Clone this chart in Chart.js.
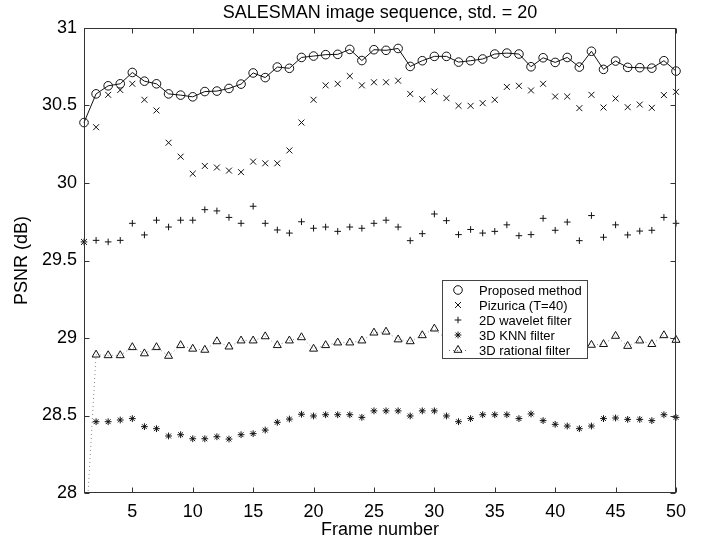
<!DOCTYPE html>
<html>
<head>
<meta charset="utf-8">
<script src="https://cdn.jsdelivr.net/npm/chart.js@4/dist/chart.umd.min.js"></script>
<style>
  html, body { margin: 0; padding: 0; background: #fff; }
  #wrap { width: 716px; height: 539px; }
</style>
</head>
<body>
<div id="wrap"><canvas id="psnr-chart" width="716" height="539"></canvas></div>
<script>
// Frame numbers (x axis)
const frames = [1, 2, 3, 4, 5, 6, 7, 8, 9, 10, 11, 12, 13, 14, 15, 16, 17, 18, 19, 20,
    21, 22, 23, 24, 25, 26, 27, 28, 29, 30, 31, 32, 33, 34, 35, 36, 37, 38, 39, 40,
    41, 42, 43, 44, 45, 46, 47, 48, 49, 50];

// PSNR values
const proposed = [30.39, 30.575, 30.627, 30.64, 30.713, 30.657, 30.64, 30.575, 30.567, 30.556,
    30.59, 30.593, 30.61, 30.638, 30.71, 30.68, 30.748, 30.74, 30.81, 30.819,
    30.828, 30.83, 30.862, 30.79, 30.86, 30.856, 30.868, 30.752, 30.789, 30.817,
    30.817, 30.78, 30.789, 30.80, 30.832, 30.838, 30.832, 30.75, 30.808, 30.778,
    30.81, 30.748, 30.85, 30.733, 30.787, 30.746, 30.744, 30.741, 30.789, 30.722];
const pizurica = [29.62, 30.36, 30.569, 30.60, 30.64, 30.537, 30.468, 30.26, 30.17, 30.06,
    30.11, 30.10, 30.08, 30.07, 30.138, 30.127, 30.127, 30.21, 30.39, 30.537,
    30.63, 30.64, 30.69, 30.63, 30.65, 30.65, 30.66, 30.575, 30.54, 30.59,
    30.547, 30.498, 30.498, 30.515, 30.537, 30.62, 30.627, 30.597, 30.64, 30.558,
    30.558, 30.483, 30.569, 30.487, 30.545, 30.489, 30.506, 30.485, 30.567, 30.588];
const wavelet2d = [29.62, 29.63, 29.62, 29.63, 29.74, 29.665, 29.76, 29.716, 29.76, 29.76,
    29.828, 29.82, 29.778, 29.74, 29.85, 29.74, 29.697, 29.677, 29.75, 29.708,
    29.716, 29.688, 29.716, 29.708, 29.74, 29.76, 29.716, 29.628, 29.673, 29.80,
    29.757, 29.667, 29.70, 29.677, 29.688, 29.73, 29.66, 29.667, 29.772, 29.695,
    29.748, 29.628, 29.79, 29.65, 29.73, 29.665, 29.69, 29.695, 29.778, 29.74];
const knn3d = [null, 28.46, 28.46, 28.471, 28.48, 28.428, 28.415, 28.368, 28.376, 28.35,
    28.35, 28.363, 28.348, 28.376, 28.383, 28.406, 28.456, 28.477, 28.508, 28.497,
    28.505, 28.505, 28.505, 28.488, 28.53, 28.53, 28.53, 28.497, 28.53, 28.53,
    28.497, 28.46, 28.48, 28.505, 28.505, 28.505, 28.48, 28.51, 28.467, 28.443,
    28.432, 28.415, 28.432, 28.48, 28.484, 28.475, 28.475, 28.467, 28.505, 28.488];
const rational3d = [27.55, 28.892, 28.888, 28.888, 28.94, 28.90, 28.94, 28.884, 28.953, 28.93,
    28.923, 28.978, 28.944, 28.983, 28.983, 29.01, 28.953, 28.983, 29.004, 28.93,
    28.953, 28.97, 28.97, 28.983, 29.034, 29.04, 28.99, 28.978, 29.017, 29.06,
    28.99, 28.97, 28.98, 29.0, 28.97, 28.99, 29.01, 28.97, 28.98, 28.96,
    28.99, 28.97, 28.955, 28.96, 29.013, 28.948, 28.983, 28.96, 29.017, 28.987];

const seriesNames = ['Proposed method', 'Pizurica (T=40)', '2D wavelet filter', '3D KNN filter', '3D rational filter'];

// Tick labels
const xTicks = [5, 10, 15, 20, 25, 30, 35, 40, 45, 50];
const yTicks = [28, 28.5, 29, 29.5, 30, 30.5, 31];

const FONT = "'Liberation Sans', Arial, Helvetica, sans-serif";
Chart.defaults.font.family = FONT;
Chart.defaults.color = '#000';

const INK = '#111';

// hand-made matlab style box with inward ticks + legend inside the axes
const matlabAxes = {
    id: 'matlabAxes',
    afterDatasetsDraw(chart) {
        const { ctx, chartArea: a, scales: { x, y } } = chart;
        const L = Math.round(a.left) + 0.5, R = Math.round(a.right) - 0.5;
        const T = Math.round(a.top) + 0.5, B = Math.round(a.bottom) - 0.5;
        const tl = 5;
        ctx.save();
        ctx.strokeStyle = '#333';
        ctx.lineWidth = 1;
        ctx.strokeRect(L, T, R - L, B - T);
        ctx.beginPath();
        xTicks.forEach(v => {
            const px = Math.round(x.getPixelForValue(v)) + 0.5;
            ctx.moveTo(px, B); ctx.lineTo(px, B - tl);
            ctx.moveTo(px, T); ctx.lineTo(px, T + tl);
        });
        yTicks.forEach(v => {
            const py = Math.round(y.getPixelForValue(v)) + 0.5;
            ctx.moveTo(L, py); ctx.lineTo(L + tl, py);
            ctx.moveTo(R, py); ctx.lineTo(R - tl, py);
        });
        ctx.stroke();

        // Legend box
        const bx = a.left + 358, by = a.top + 252, bw = 145, bh = 78;
        ctx.fillStyle = '#fff';
        ctx.fillRect(bx, by, bw, bh);
        ctx.strokeStyle = '#444';
        ctx.strokeRect(Math.round(bx) + 0.5, Math.round(by) + 0.5, bw, bh);

        const rowY0 = by + 10, rowStep = 15;
        const markX = bx + 16, textX = bx + 37;
        ctx.font = '13px ' + FONT;
        ctx.textBaseline = 'middle';
        ctx.textAlign = 'left';
        chart.data.datasets.forEach((ds, i) => {
            const ry = rowY0 + i * rowStep;
            if (ds.legendLine) {
                ctx.save();
                ctx.strokeStyle = '#777';
                ctx.setLineDash([1, 3]);
                ctx.beginPath();
                ctx.moveTo(markX - 9, Math.round(ry) + 0.5);
                ctx.lineTo(markX + 10, Math.round(ry) + 0.5);
                ctx.stroke();
                ctx.restore();
            }
            ctx.strokeStyle = INK;
            ctx.fillStyle = 'rgba(0,0,0,0)';
            Chart.helpers.drawPoint(ctx, {
                pointStyle: ds.pointStyle,
                radius: ds.pointRadius,
                borderWidth: 1,
                rotation: 0
            }, markX, ry);
            ctx.fillStyle = '#000';
            ctx.fillText(seriesNames[i], textX, ry + 1);
        });
        ctx.restore();
    }
};

const edgeClip = { left: 8, right: 8, top: 8, bottom: 0 };

new Chart(document.getElementById('psnr-chart'), {
    type: 'line',
    data: {
        labels: frames,
        datasets: [
            {
                data: proposed,
                borderColor: INK,
                borderWidth: 1,
                pointStyle: 'circle',
                pointRadius: 4.3,
                pointBorderColor: INK,
                pointBackgroundColor: 'rgba(0,0,0,0)',
                pointBorderWidth: 1,
                tension: 0,
                clip: edgeClip
            },
            {
                data: pizurica,
                showLine: false,
                pointStyle: 'crossRot',
                pointRadius: 4.2,
                pointBorderColor: INK,
                pointBorderWidth: 1,
                clip: edgeClip
            },
            {
                data: wavelet2d,
                showLine: false,
                pointStyle: 'cross',
                pointRadius: 3.3,
                pointBorderColor: INK,
                pointBorderWidth: 1,
                clip: edgeClip
            },
            {
                data: knn3d,
                showLine: false,
                pointStyle: 'star',
                pointRadius: 3.4,
                pointBorderColor: INK,
                pointBorderWidth: 1,
                clip: edgeClip
            },
            {
                data: rational3d,
                borderColor: '#888',
                borderWidth: 1,
                borderDash: [1, 3],
                pointStyle: 'triangle',
                pointRadius: 4.6,
                pointBorderColor: INK,
                pointBackgroundColor: 'rgba(0,0,0,0)',
                pointBorderWidth: 1,
                tension: 0,
                legendLine: true,
                clip: edgeClip
            }
        ]
    },
    options: {
        responsive: false,
        animation: false,
        devicePixelRatio: 1,
        layout: { padding: { left: 0, right: 40, top: 0, bottom: 0 } },
        plugins: {
            legend: { display: false },
            tooltip: { enabled: false },
            title: {
                display: true,
                fullSize: false,
                text: 'SALESMAN image sequence, std. = 20',
                color: '#000',
                font: { size: 18, weight: 'normal', lineHeight: 1.2 },
                padding: { top: 2, bottom: 4.4 }
            }
        },
        scales: {
            x: {
                type: 'linear',
                min: 1,
                max: 50,
                grid: { display: false, drawTicks: false },
                border: { display: false },
                afterBuildTicks: s => { s.ticks = xTicks.map(v => ({ value: v })); },
                afterFit: s => { s.height = 46; },
                ticks: {
                    padding: 8,
                    maxRotation: 0,
                    autoSkip: false,
                    font: { size: 18 },
                    callback: v => String(v)
                },
                title: {
                    display: true,
                    text: 'Frame number',
                    font: { size: 18, lineHeight: 1 },
                    padding: { top: 0, bottom: 0 }
                }
            },
            y: {
                min: 28,
                max: 31,
                grid: { display: false, drawTicks: false },
                border: { display: false },
                afterBuildTicks: s => { s.ticks = yTicks.map(v => ({ value: v })); },
                afterFit: s => { s.width = 84; },
                ticks: {
                    padding: 7,
                    autoSkip: false,
                    font: { size: 18 },
                    callback: v => String(v)
                },
                title: {
                    display: true,
                    text: 'PSNR (dB)',
                    font: { size: 18, lineHeight: 1 },
                    padding: { top: 13, bottom: 0 }
                }
            }
        }
    },
    plugins: [matlabAxes]
});
</script>
</body>
</html>
